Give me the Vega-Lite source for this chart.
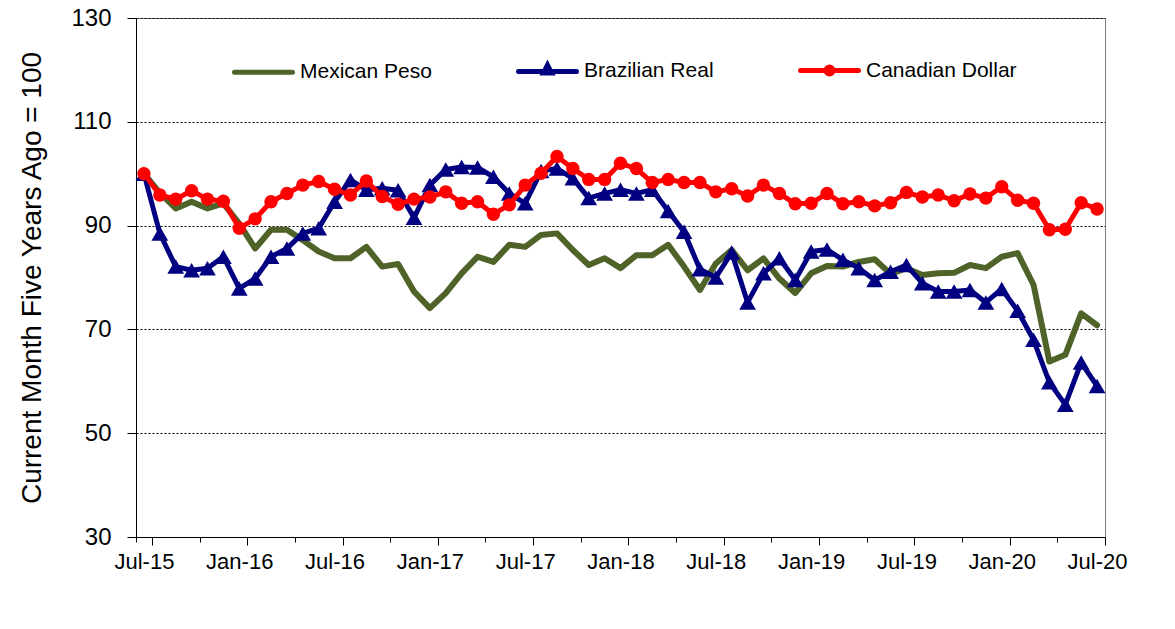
{
  "$schema": "https://vega.github.io/schema/vega-lite/v6.json",
  "width": 969,
  "height": 519,
  "autosize": {"type": "none"},
  "padding": {"left": 136, "top": 18, "right": 70, "bottom": 92},
  "background": "white",
  "config": {"view": {"stroke": "#7f7f7f", "strokeWidth": 1}, "font": "Liberation Sans"},
  "data": {"values": [
    {"month": "Jul-15", "Mexican Peso": 100, "Brazilian Real": 100, "Canadian Dollar": 100},
    {"month": "Aug-15", "Mexican Peso": 96.3, "Brazilian Real": 88.5, "Canadian Dollar": 95.9},
    {"month": "Sep-15", "Mexican Peso": 93.3, "Brazilian Real": 82.1, "Canadian Dollar": 95.1},
    {"month": "Oct-15", "Mexican Peso": 94.6, "Brazilian Real": 81.4, "Canadian Dollar": 96.7},
    {"month": "Nov-15", "Mexican Peso": 93.3, "Brazilian Real": 81.8, "Canadian Dollar": 95.1},
    {"month": "Dec-15", "Mexican Peso": 94.3, "Brazilian Real": 84.0, "Canadian Dollar": 94.7},
    {"month": "Jan-16", "Mexican Peso": 90.4, "Brazilian Real": 77.9, "Canadian Dollar": 89.5},
    {"month": "Feb-16", "Mexican Peso": 85.6, "Brazilian Real": 79.8, "Canadian Dollar": 91.3},
    {"month": "Mar-16", "Mexican Peso": 89.2, "Brazilian Real": 84.0, "Canadian Dollar": 94.6},
    {"month": "Apr-16", "Mexican Peso": 89.2, "Brazilian Real": 85.6, "Canadian Dollar": 96.2},
    {"month": "May-16", "Mexican Peso": 87.2, "Brazilian Real": 88.5, "Canadian Dollar": 97.8},
    {"month": "Jun-16", "Mexican Peso": 85.0, "Brazilian Real": 89.5, "Canadian Dollar": 98.5},
    {"month": "Jul-16", "Mexican Peso": 83.7, "Brazilian Real": 94.6, "Canadian Dollar": 97.0},
    {"month": "Aug-16", "Mexican Peso": 83.7, "Brazilian Real": 98.8, "Canadian Dollar": 95.9},
    {"month": "Sep-16", "Mexican Peso": 85.9, "Brazilian Real": 96.9, "Canadian Dollar": 98.6},
    {"month": "Oct-16", "Mexican Peso": 82.1, "Brazilian Real": 97.2, "Canadian Dollar": 95.6},
    {"month": "Nov-16", "Mexican Peso": 82.6, "Brazilian Real": 96.8, "Canadian Dollar": 94.1},
    {"month": "Dec-16", "Mexican Peso": 77.3, "Brazilian Real": 91.5, "Canadian Dollar": 95.1},
    {"month": "Jan-17", "Mexican Peso": 74.1, "Brazilian Real": 97.8, "Canadian Dollar": 95.5},
    {"month": "Feb-17", "Mexican Peso": 77.0, "Brazilian Real": 100.8, "Canadian Dollar": 96.5},
    {"month": "Mar-17", "Mexican Peso": 80.8, "Brazilian Real": 101.3, "Canadian Dollar": 94.3},
    {"month": "Apr-17", "Mexican Peso": 84.0, "Brazilian Real": 101.2, "Canadian Dollar": 94.6},
    {"month": "May-17", "Mexican Peso": 83.0, "Brazilian Real": 99.4, "Canadian Dollar": 92.2},
    {"month": "Jun-17", "Mexican Peso": 86.3, "Brazilian Real": 96.2, "Canadian Dollar": 94.0},
    {"month": "Jul-17", "Mexican Peso": 85.9, "Brazilian Real": 94.3, "Canadian Dollar": 97.8},
    {"month": "Aug-17", "Mexican Peso": 88.2, "Brazilian Real": 100.5, "Canadian Dollar": 100.1},
    {"month": "Sep-17", "Mexican Peso": 88.5, "Brazilian Real": 101.0, "Canadian Dollar": 103.3},
    {"month": "Oct-17", "Mexican Peso": 85.3, "Brazilian Real": 99.1, "Canadian Dollar": 101.0},
    {"month": "Nov-17", "Mexican Peso": 82.4, "Brazilian Real": 95.3, "Canadian Dollar": 98.9},
    {"month": "Dec-17", "Mexican Peso": 83.7, "Brazilian Real": 96.2, "Canadian Dollar": 98.9},
    {"month": "Jan-18", "Mexican Peso": 81.8, "Brazilian Real": 96.9, "Canadian Dollar": 102.0},
    {"month": "Feb-18", "Mexican Peso": 84.3, "Brazilian Real": 96.2, "Canadian Dollar": 101.0},
    {"month": "Mar-18", "Mexican Peso": 84.3, "Brazilian Real": 96.9, "Canadian Dollar": 98.3},
    {"month": "Apr-18", "Mexican Peso": 86.3, "Brazilian Real": 92.8, "Canadian Dollar": 98.9},
    {"month": "May-18", "Mexican Peso": 82.1, "Brazilian Real": 88.8, "Canadian Dollar": 98.3},
    {"month": "Jun-18", "Mexican Peso": 77.6, "Brazilian Real": 81.6, "Canadian Dollar": 98.3},
    {"month": "Jul-18", "Mexican Peso": 82.7, "Brazilian Real": 80.0, "Canadian Dollar": 96.5},
    {"month": "Aug-18", "Mexican Peso": 85.3, "Brazilian Real": 84.8, "Canadian Dollar": 97.1},
    {"month": "Sep-18", "Mexican Peso": 81.4, "Brazilian Real": 75.2, "Canadian Dollar": 95.7},
    {"month": "Oct-18", "Mexican Peso": 83.7, "Brazilian Real": 80.8, "Canadian Dollar": 97.8},
    {"month": "Nov-18", "Mexican Peso": 79.8, "Brazilian Real": 83.7, "Canadian Dollar": 96.2},
    {"month": "Dec-18", "Mexican Peso": 77.0, "Brazilian Real": 79.5, "Canadian Dollar": 94.2},
    {"month": "Jan-19", "Mexican Peso": 80.8, "Brazilian Real": 85.0, "Canadian Dollar": 94.3},
    {"month": "Feb-19", "Mexican Peso": 82.2, "Brazilian Real": 85.4, "Canadian Dollar": 96.2},
    {"month": "Mar-19", "Mexican Peso": 82.1, "Brazilian Real": 83.4, "Canadian Dollar": 94.2},
    {"month": "Apr-19", "Mexican Peso": 83.0, "Brazilian Real": 81.8, "Canadian Dollar": 94.6},
    {"month": "May-19", "Mexican Peso": 83.5, "Brazilian Real": 79.5, "Canadian Dollar": 93.8},
    {"month": "Jun-19", "Mexican Peso": 80.7, "Brazilian Real": 81.1, "Canadian Dollar": 94.4},
    {"month": "Jul-19", "Mexican Peso": 81.8, "Brazilian Real": 82.4, "Canadian Dollar": 96.4},
    {"month": "Aug-19", "Mexican Peso": 80.5, "Brazilian Real": 78.9, "Canadian Dollar": 95.5},
    {"month": "Sep-19", "Mexican Peso": 80.8, "Brazilian Real": 77.3, "Canadian Dollar": 95.9},
    {"month": "Oct-19", "Mexican Peso": 80.9, "Brazilian Real": 77.3, "Canadian Dollar": 94.8},
    {"month": "Nov-19", "Mexican Peso": 82.4, "Brazilian Real": 77.6, "Canadian Dollar": 96.1},
    {"month": "Dec-19", "Mexican Peso": 81.8, "Brazilian Real": 75.2, "Canadian Dollar": 95.3},
    {"month": "Jan-20", "Mexican Peso": 84.0, "Brazilian Real": 77.8, "Canadian Dollar": 97.5},
    {"month": "Feb-20", "Mexican Peso": 84.7, "Brazilian Real": 73.6, "Canadian Dollar": 94.9},
    {"month": "Mar-20", "Mexican Peso": 78.6, "Brazilian Real": 68.0, "Canadian Dollar": 94.3},
    {"month": "Apr-20", "Mexican Peso": 63.8, "Brazilian Real": 59.8, "Canadian Dollar": 89.2},
    {"month": "May-20", "Mexican Peso": 65.1, "Brazilian Real": 55.5, "Canadian Dollar": 89.3},
    {"month": "Jun-20", "Mexican Peso": 73.1, "Brazilian Real": 63.6, "Canadian Dollar": 94.4},
    {"month": "Jul-20", "Mexican Peso": 70.8, "Brazilian Real": 59.1, "Canadian Dollar": 93.2}
  ]},
  "transform": [{"fold": ["Mexican Peso", "Brazilian Real", "Canadian Dollar"], "as": ["series", "value"]}],
  "encoding": {
    "x": {
      "field": "month", "type": "ordinal", "bandPosition": 0.5,
      "scale": {"type": "band", "paddingInner": 0, "paddingOuter": 0,
        "domain": ["Jul-15","Aug-15","Sep-15","Oct-15","Nov-15","Dec-15","Jan-16","Feb-16","Mar-16","Apr-16","May-16","Jun-16","Jul-16","Aug-16","Sep-16","Oct-16","Nov-16","Dec-16","Jan-17","Feb-17","Mar-17","Apr-17","May-17","Jun-17","Jul-17","Aug-17","Sep-17","Oct-17","Nov-17","Dec-17","Jan-18","Feb-18","Mar-18","Apr-18","May-18","Jun-18","Jul-18","Aug-18","Sep-18","Oct-18","Nov-18","Dec-18","Jan-19","Feb-19","Mar-19","Apr-19","May-19","Jun-19","Jul-19","Aug-19","Sep-19","Oct-19","Nov-19","Dec-19","Jan-20","Feb-20","Mar-20","Apr-20","May-20","Jun-20","Jul-20"]},
      "axis": {
        "values": ["Jul-15","Oct-15","Jan-16","Apr-16","Jul-16","Oct-16","Jan-17","Apr-17","Jul-17","Oct-17","Jan-18","Apr-18","Jul-18","Oct-18","Jan-19","Apr-19","Jul-19","Oct-19","Jan-20","Apr-20","Jul-20"],
        "tickBand": "extent",
        "labelExpr": "(substring(datum.label,0,3) == 'Jan' || substring(datum.label,0,3) == 'Jul') ? datum.label : ''",
        "labelAngle": 0, "labelFontSize": 22, "labelFont": "Liberation Sans", "labelColor": "black", "labelPadding": 6,
        "tickColor": "black", "domainColor": "black",
        "tickSize": {"condition": {"test": "substring(datum.value,0,3) == 'Jan' || substring(datum.value,0,3) == 'Jul'", "value": 8}, "value": 5},
        "title": null, "grid": false
      }
    },
    "y": {
      "field": "value", "type": "quantitative",
      "scale": {"domain": [30, 130], "nice": false, "zero": false},
      "axis": {
        "values": [30, 50, 70, 90, 110, 130],
        "title": "Current Month Five Years Ago = 100",
        "titleFontSize": 28, "titleFont": "Liberation Sans", "titleFontWeight": "normal", "titleColor": "black", "titlePadding": 24,
        "labelFontSize": 24, "labelFont": "Liberation Sans", "labelColor": "black", "labelPadding": 16,
        "tickSize": 9, "tickColor": "black", "domainColor": "black",
        "gridColor": "black", "gridDash": [2, 2], "gridWidth": 1
      }
    },
    "color": {
      "field": "series", "type": "nominal",
      "scale": {"domain": ["Mexican Peso", "Brazilian Real", "Canadian Dollar"], "range": ["#4F6228", "#000080", "#FF0000"]},
      "legend": {
        "orient": "none", "legendX": 96, "legendY": 21, "direction": "horizontal", "title": null,
        "labelFontSize": 21, "labelFont": "Liberation Sans", "labelColor": "black", "labelOffset": 5,
        "symbolType": "stroke", "symbolSize": 3364, "symbolStrokeWidth": 5, "columnPadding": 76,
        "encode": {"symbols": {"update": {
          "shape": {"signal": "datum.value === 'Brazilian Real' ? 'M-1,0H1M0,-0.22L0.14,0.06L-0.14,0.06Z' : (datum.value === 'Canadian Dollar' ? 'M-1,0H1M-0.12,0A0.12,0.12,0,1,1,0.12,0A0.12,0.12,0,1,1,-0.12,0Z' : 'M-1,0H1')"},
          "fill": {"signal": "datum.value === 'Brazilian Real' ? '#000080' : (datum.value === 'Canadian Dollar' ? '#FF0000' : '#4F6228')"},
          "strokeCap": {"value": "round"}
        }}}
      }
    }
  },
  "layer": [
    {"transform": [{"filter": "datum.series === 'Mexican Peso'"}], "mark": {"type": "line", "strokeWidth": 6, "strokeJoin": "round", "strokeCap": "round"}},
    {"transform": [{"filter": "datum.series === 'Brazilian Real'"}], "mark": {"type": "line", "strokeWidth": 5, "strokeJoin": "round", "strokeCap": "round"}},
    {"transform": [{"filter": "datum.series === 'Brazilian Real'"}], "mark": {"type": "point", "shape": "triangle-up", "filled": true, "size": 280, "opacity": 1}},
    {"transform": [{"filter": "datum.series === 'Canadian Dollar'"}], "mark": {"type": "line", "strokeWidth": 5, "strokeJoin": "round", "strokeCap": "round"}},
    {"transform": [{"filter": "datum.series === 'Canadian Dollar'"}], "mark": {"type": "point", "shape": "circle", "filled": true, "size": 180, "opacity": 1}}
  ]
}
